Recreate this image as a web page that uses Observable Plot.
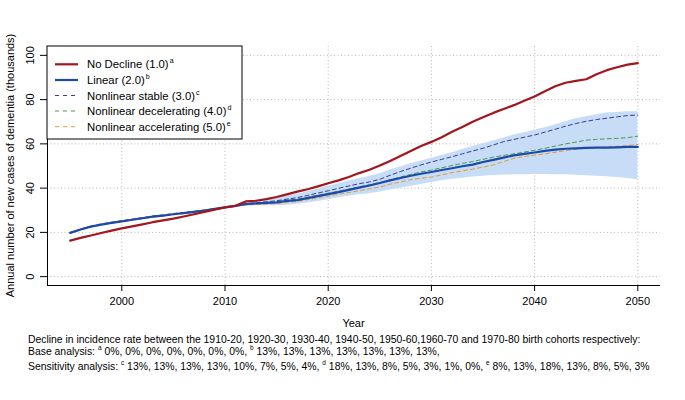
<!DOCTYPE html>
<html>
<head>
<meta charset="utf-8">
<script src="https://cdn.jsdelivr.net/npm/d3@7"></script>
<script src="https://cdn.jsdelivr.net/npm/@observablehq/plot@0.6"></script>
<style>
  html, body { margin: 0; padding: 0; background: #fff; }
  #chart svg { display: block; font-family: Arial, "Liberation Sans", sans-serif; }
</style>
</head>
<body>
<div id="chart"></div>
<script>
// ---------- DATA ----------
const years = d3.range(1995, 2051);
const noDecline = [16.3,17.5,18.6,19.7,20.8,21.8,22.7,23.6,24.6,25.4,26.2,27.2,28.2,29.3,30.3,31.3,
  32.0,34.0,34.3,35.0,36.0,37.2,38.4,39.5,40.8,42.2,
  43.5,45.0,46.8,48.3,50.2,52.3,54.5,56.8,59.0,60.9,
  63.0,65.5,67.6,70.0,72.0,74.0,75.8,77.5,79.5,81.4,
  83.8,86.0,87.6,88.5,89.2,91.5,93.3,94.6,95.8,96.5];
const linear = [19.8,21.3,22.6,23.5,24.3,25.0,25.7,26.4,27.1,27.6,28.2,28.7,29.3,29.9,30.6,31.3,
  32.0,32.8,33.1,33.3,33.6,34.2,34.6,35.5,36.4,37.3,
  38.2,39.2,40.2,41.2,42.3,43.5,44.6,45.6,46.5,47.3,
  48.2,49.0,49.9,50.6,51.8,52.8,53.8,54.8,55.5,56.1,
  56.8,57.4,57.8,58.0,58.2,58.3,58.3,58.4,58.6,58.6];
const nlStable = [19.9,21.5,22.8,23.8,24.6,25.3,26.0,26.7,27.4,27.9,28.5,29.0,29.5,30.1,30.7,31.3,
  32.0,32.9,33.4,33.8,34.3,35.0,35.7,36.7,37.8,38.8,
  39.9,41.0,42.0,42.8,44.0,45.8,47.5,49.0,50.5,51.8,
  53.0,54.2,55.5,56.8,58.0,59.5,61.0,62.0,63.0,64.0,
  65.3,66.6,68.0,69.2,70.2,71.0,71.6,72.2,72.8,73.0];
const nlDecel = [19.8,21.3,22.6,23.5,24.3,25.0,25.7,26.4,27.1,27.6,28.2,28.7,29.3,29.9,30.6,31.3,
  32.0,32.8,33.2,33.5,33.9,34.5,35.0,35.9,36.8,37.7,
  38.6,39.6,40.6,41.5,42.5,43.8,45.0,46.2,47.3,48.2,
  49.2,50.2,51.2,52.0,53.0,54.0,54.8,55.5,56.3,57.1,
  58.0,59.0,60.0,60.8,61.7,62.0,62.3,62.5,62.8,63.5];
const nlAccel = [19.6,21.1,22.4,23.3,24.1,24.8,25.5,26.2,26.9,27.4,28.0,28.5,29.1,29.7,30.4,31.1,
  31.8,32.4,32.6,32.8,33.0,33.5,34.0,34.8,35.6,36.4,
  37.3,38.0,38.8,39.7,40.5,41.8,42.8,43.8,44.5,45.0,
  46.0,47.0,47.8,48.6,49.5,50.5,52.0,53.5,54.3,54.9,
  55.5,56.2,57.0,57.6,58.2,58.4,58.6,58.9,59.2,59.7];
const bandYears = d3.range(2011, 2051);
const bandUpper = [32.2,33.3,34.0,34.7,35.4,36.3,37.2,38.4,39.6,40.8,
  42.0,43.2,44.2,45.2,46.5,48.2,49.6,51.0,52.3,53.5,
  54.8,56.0,57.4,58.8,60.0,61.3,62.6,64.0,65.0,66.2,
  67.3,68.5,70.0,71.3,72.3,73.2,74.0,74.3,74.5,74.5];
const bandLower = [31.5,32.0,32.0,32.0,32.0,32.3,32.7,33.3,34.0,34.8,
  35.6,36.3,37.0,37.5,38.3,39.2,40.0,40.8,41.6,42.5,
  43.3,44.0,44.5,45.0,45.4,45.7,45.9,46.0,46.1,46.2,
  46.2,46.1,46.0,45.8,45.6,45.4,45.1,44.8,44.4,43.8];
const xTicks = [2000, 2010, 2020, 2030, 2040, 2050];
const yTicks = [0, 20, 40, 60, 80, 100];

const seriesNames = ["No Decline (1.0)", "Linear (2.0)", "Nonlinear stable (3.0)", "Nonlinear decelerating (4.0)", "Nonlinear accelerating (5.0)"];
const seriesSup = ["a", "b", "c", "d", "e"];
const seriesColors = ["#a3161d", "#1b4aaa", "#3d3d8c", "#4c9a4c", "#e69a2e"];
const seriesValues = [noDecline, linear, nlStable, nlDecel, nlAccel];
const seriesWidth = [2.2, 2.2, 1, 1, 1];
const seriesDash = [null, null, "4,3", "4,3", "4,3"];

const yTitle = "Annual number of new cases of dementia (thousands)";
const xTitle = "Year";
const noteLines = [
  [["Decline in incidence rate between the 1910-20, 1920-30, 1930-40, 1940-50, 1950-60,1960-70 and 1970-80 birth cohorts respectively:", false]],
  [["Base analysis: ", false], ["a", true], [" 0%, 0%, 0%, 0%, 0%, 0%, 0%, ", false], ["b", true], [" 13%, 13%, 13%, 13%, 13%, 13%, 13%,", false]],
  [["Sensitivity analysis: ", false], ["c", true], [" 13%, 13%, 13%, 13%, 10%, 7%, 5%, 4%, ", false], ["d", true], [" 18%, 13%, 8%, 5%, 3%, 1%, 0%, ", false], ["e", true], [" 8%, 13%, 18%, 13%, 8%, 5%, 3%", false]]
];

// ---------- BUILD ----------
const xExt = d3.extent(years), yExt = [0, 100];
const xPad = (xExt[1] - xExt[0]) * 0.04, yPad = (yExt[1] - yExt[0]) * 0.04;
const xDomain = [xExt[0] - xPad, xExt[1] + xPad];
const yDomain = [yExt[0] - yPad, yExt[1] + yPad];

const band = bandYears.map((yr, i) => ({year: yr, lo: bandLower[i], hi: bandUpper[i]}));
const lineMarks = seriesValues.map((vals, s) =>
  Plot.line(years.map((yr, i) => ({year: yr, v: vals[i]})), {
    x: "year", y: "v", stroke: seriesColors[s], strokeWidth: seriesWidth[s],
    strokeDasharray: seriesDash[s], curve: "linear"
  })
);
const order = [2, 3, 4, 1, 0];

const gridStyle = {stroke: "#b8b8b8", strokeOpacity: 1, strokeDasharray: "1,2.5", strokeWidth: 1};

const W = 685, H = 400;
const M = {top: 46, bottom: 115, left: 47, right: 25};
const chart = Plot.plot({
  width: W, height: H,
  marginTop: M.top, marginBottom: M.bottom, marginLeft: M.left, marginRight: M.right,
  style: {fontFamily: "Arial, 'Liberation Sans', sans-serif", fontSize: "11px", color: "#000", background: "#fff"},
  x: {domain: xDomain, label: null},
  y: {domain: yDomain, label: null},
  marks: [
    Plot.gridY(yTicks, gridStyle),
    Plot.gridX(xTicks, gridStyle),
    Plot.areaY(band, {x: "year", y1: "lo", y2: "hi", fill: "#c6dcf7"}),
    ...order.map(i => lineMarks[i]),
    Plot.ruleX([xDomain[0]], {stroke: "#000", strokeWidth: 1}),
    Plot.ruleY([yDomain[0]], {stroke: "#000", strokeWidth: 1}),
    Plot.axisX({ticks: xTicks, tickSize: 6, tickPadding: 6, tickFormat: "d", fontSize: 11, label: null, stroke: "#000"}),
    Plot.axisY({ticks: yTicks, tickSize: 7, tickFormat: () => "", label: null, stroke: "#000"}),
    Plot.text(yTicks, {y: d => d, text: d => String(d), frameAnchor: "left", dx: -17, rotate: -90,
      textAnchor: "middle", lineAnchor: "middle", fontSize: 11, fill: "#000"})
  ]
});
document.getElementById("chart").appendChild(chart);

// ---------- titles, legend, notes ----------
const svg = d3.select(chart);
const pLeft = M.left, pRight = W - M.right, pTop = M.top, pBottom = H - M.bottom;

svg.append("text").attr("transform", `translate(10,${(pTop + pBottom) / 2}) rotate(-90)`)
  .attr("text-anchor", "middle").attr("dominant-baseline", "central")
  .attr("font-size", 11).attr("fill", "#000").text(yTitle);

svg.append("text").attr("x", (pLeft + pRight) / 2).attr("y", 327)
  .attr("text-anchor", "middle").attr("font-size", 11).attr("fill", "#000").text(xTitle);

// legend
const lg = svg.append("g").attr("text-anchor", "start");
lg.append("rect").attr("x", 47).attr("y", 46).attr("width", 195).attr("height", 93)
  .attr("fill", "#fff").attr("stroke", "#000").attr("stroke-width", 1);
const rowY = [64.3, 80, 95.5, 111, 126.7];
seriesNames.forEach((name, i) => {
  lg.append("line").attr("x1", 55).attr("x2", 78).attr("y1", rowY[i]).attr("y2", rowY[i])
    .attr("stroke", seriesColors[i]).attr("stroke-width", seriesWidth[i])
    .attr("stroke-dasharray", seriesDash[i] ? "4,4" : null);
  const t = lg.append("text").attr("x", 87).attr("y", rowY[i] + 4).attr("text-anchor", "start")
    .attr("font-size", 11.3).attr("fill", "#000");
  t.append("tspan").text(name);
  t.append("tspan").attr("font-size", 7).attr("dy", -5).attr("dx", 1).text(seriesSup[i]);
});

// notes
const notes = svg.append("g").attr("text-anchor", "start");
const noteY = [343, 354.5, 369.5];
const supShift = 4.5;
noteLines.forEach((parts, li) => {
  const t = notes.append("text").attr("x", 28).attr("y", noteY[li]).attr("text-anchor", "start")
    .attr("font-size", 10.4).attr("fill", "#000");
  let raised = false;
  parts.forEach(([str, sup]) => {
    const sp = t.append("tspan").text(str);
    if (sup) {
      sp.attr("font-size", 6.5).attr("dy", -supShift);
      raised = true;
    } else if (raised) {
      sp.attr("dy", supShift);
      raised = false;
    }
  });
});
</script>
</body>
</html>
